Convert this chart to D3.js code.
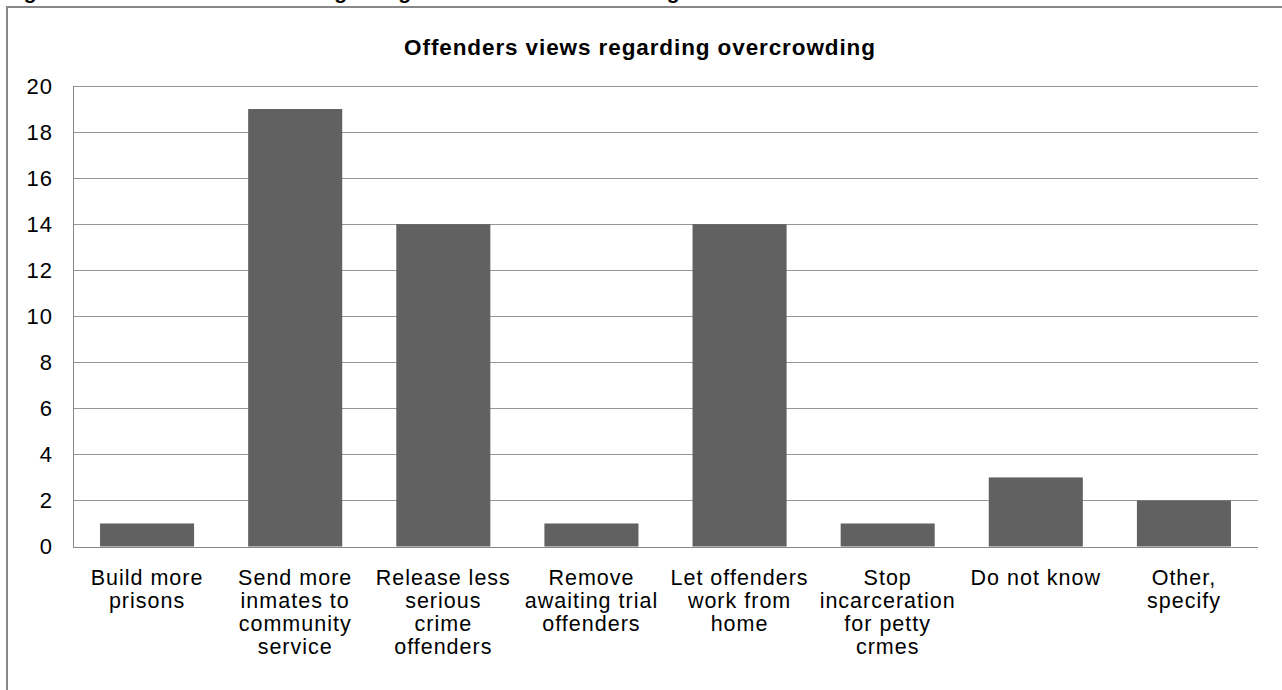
<!DOCTYPE html>
<html>
<head>
<meta charset="utf-8">
<script src="https://cdn.jsdelivr.net/npm/d3@7"></script>
<style>
  html, body { margin: 0; padding: 0; background: #ffffff; overflow: hidden; }
  svg { display: block; }
  text { font-family: "Liberation Sans", Arial, sans-serif; fill: #000; }
</style>
</head>
<body>
<svg id="chart" width="1282" height="690"></svg>
<script>
// Survey answers: what offenders think would reduce overcrowding
const categories = [
  "Build more prisons",
  "Send more inmates to community service",
  "Release less serious crime offenders",
  "Remove awaiting trial offenders",
  "Let offenders work from home",
  "Stop incarceration for petty crmes",
  "Do not know",
  "Other, specify"
];
const categoryLines = [
  ["Build more", "prisons"],
  ["Send more", "inmates to", "community", "service"],
  ["Release less", "serious", "crime", "offenders"],
  ["Remove", "awaiting trial", "offenders"],
  ["Let offenders", "work from", "home"],
  ["Stop", "incarceration", "for petty", "crmes"],
  ["Do not know"],
  ["Other,", "specify"]
];
const counts = [1, 19, 14, 1, 14, 1, 3, 2];
const yTicks = [0, 2, 4, 6, 8, 10, 12, 14, 16, 18, 20];
const chartTitle = "Offenders views regarding overcrowding";
const captionText = "Figure 4.10.1: Offenders views regarding solutions to overcrowding";

const svg = d3.select("#chart");

// Document caption above the chart frame (sits mostly above the top edge)
svg.append("text")
  .attr("x", 5)
  .attr("y", -1)
  .style("font-size", "21px")
  .style("font-weight", "bold")
  .text(captionText);

// Chart frame
svg.append("rect")
  .attr("x", 7).attr("y", 7)
  .attr("width", 1290).attr("height", 700)
  .attr("fill", "#ffffff")
  .attr("stroke", "#878787")
  .attr("stroke-width", 2);

const plot = { left: 73, right: 1258, top: 86, bottom: 546.5 };

const x = d3.scaleBand()
  .domain(d3.range(categories.length))
  .range([plot.left, plot.right])
  .paddingInner(0)
  .paddingOuter(0);

const y = d3.scaleLinear()
  .domain([0, 20])
  .range([plot.bottom, plot.top]);

// Horizontal gridlines
svg.append("g")
  .selectAll("line")
  .data(yTicks)
  .join("line")
  .attr("x1", plot.left)
  .attr("x2", plot.right)
  .attr("y1", d => Math.round(y(d)) + 0.5)
  .attr("y2", d => Math.round(y(d)) + 0.5)
  .attr("stroke", "#969696")
  .attr("stroke-width", 1);

// Y axis labels
const yAxis = d3.axisLeft(y).tickValues(yTicks).tickSize(0).tickPadding(20);
const yG = svg.append("g")
  .attr("transform", `translate(${plot.left},0)`)
  .call(yAxis);
yG.select(".domain").remove();
yG.selectAll("text")
  .style("font-family", "'Liberation Sans', Arial, sans-serif")
  .style("font-size", "22px")
  .style("letter-spacing", "1px")
  .attr("fill", "#000");

// Bars
const barRatio = 0.635;
svg.append("g")
  .selectAll("rect")
  .data(counts)
  .join("rect")
  .attr("x", (d, i) => x(i) + x.bandwidth() * (1 - barRatio) / 2)
  .attr("width", x.bandwidth() * barRatio)
  .attr("y", d => y(d))
  .attr("height", d => y(0) - y(d))
  .attr("fill", "#616161");

// Axis lines
svg.append("line")
  .attr("x1", plot.left + 0.5).attr("x2", plot.left + 0.5)
  .attr("y1", plot.top).attr("y2", Math.round(y(0)) + 0.5)
  .attr("stroke", "#888888");
svg.append("line")
  .attr("x1", plot.left).attr("x2", plot.right)
  .attr("y1", Math.round(y(0)) + 0.5).attr("y2", Math.round(y(0)) + 0.5)
  .attr("stroke", "#888888");

// Category labels, wrapped onto several lines
const lineHeight = 23;
const catG = svg.append("g");
categoryLines.forEach((lines, i) => {
  const t = catG.append("text")
    .attr("text-anchor", "middle")
    .style("font-size", "21.5px")
    .style("letter-spacing", "1px")
    .attr("x", x(i) + x.bandwidth() / 2)
    .attr("y", 585);
  lines.forEach((ln, k) => {
    t.append("tspan")
      .attr("x", x(i) + x.bandwidth() / 2)
      .attr("dy", k === 0 ? 0 : lineHeight)
      .text(ln);
  });
});

// Chart title
svg.append("text")
  .attr("x", 640)
  .attr("y", 55)
  .attr("text-anchor", "middle")
  .style("font-size", "22.5px")
  .style("font-weight", "bold")
  .style("letter-spacing", "0.9px")
  .text(chartTitle);
</script>
</body>
</html>
